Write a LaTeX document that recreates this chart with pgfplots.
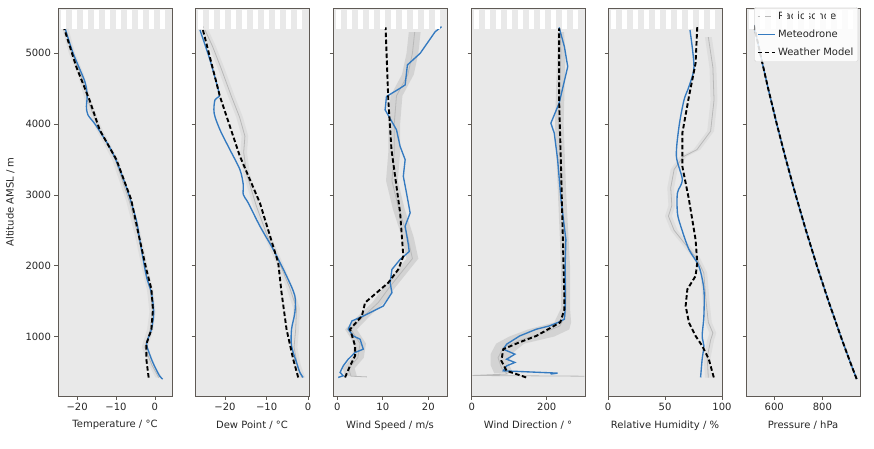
\documentclass[border=0pt]{standalone}
\usepackage{pgfplots}
\pgfplotsset{compat=1.18}
\usepackage{fontspec}
\setmainfont{DejaVu Sans}
\definecolor{bg}{RGB}{233,233,233}
\definecolor{framec}{RGB}{95,90,85}
\definecolor{mdblue}{RGB}{52,122,192}
\definecolor{rsgray}{RGB}{185,185,185}
\definecolor{bandc}{RGB}{190,190,190}
\pgfplotsset{
 panel/.style={
  scale only axis, width=114pt, height=388pt,
  ymin=160, ymax=5640, ytick={1000,2000,3000,4000,5000},
  axis background/.style={fill=bg},
  axis line style={draw=framec, line width=0.9pt},
  every tick/.style={draw=framec, line width=0.7pt},
  tick align=outside, major tick length=3.5pt,
  xtick pos=bottom, ytick pos=left,
  /pgf/number format/assume math mode=true,
  /pgf/number format/1000 sep={},
  tick label style={font=\fontsize{10}{11}\selectfont, text=black!85},
  label style={font=\fontsize{10}{11}\selectfont, text=black!85},
  xlabel shift=3pt, ylabel shift=4pt,
  anchor=south west,
 },
 inner/.style={yticklabels={}},
 md/.style={mdblue, line width=1.35pt},
 wm/.style={black, line width=1.9pt, dash pattern=on 4.5pt off 2.5pt},
 rs/.style={rsgray, line width=0.8pt},
 bd/.style={draw=none, fill=bandc, fill opacity=0.5, forget plot},
 bdl/.style={draw=none, fill=bandc, fill opacity=0.25, forget plot},
}
\begin{document}
\begin{tikzpicture}
\useasboundingbox (0,0) rectangle (874pt,-448pt);
% Temperature
\begin{axis}[panel, at={(58pt,-396pt)}, xmin=-24.9, xmax=4.4, xtick={-20,-10,0}, xticklabels={−20,−10,0},
  xlabel={Temperature / °C}, ylabel={Altitude AMSL / m}]
\addplot[bdl] coordinates {(1.8,420) (0.0,600) (-1.8,850) (-0.4,1100) (0.2,1350) (-0.4,1650) (-1.7,1950) (-3.4,2400) (-5.7,2900) (-9.4,3500) (-13.7,3950) (-16.2,4300) (-18.2,4700) (-20.5,5000) (-22.2,5350)
 (-23.8,5350) (-22.1,5000) (-19.8,4700) (-17.8,4300) (-15.3,3950) (-11.0,3500) (-7.3,2900) (-5.0,2400) (-3.3,1950) (-2.0,1650) (-1.4,1350) (-2.0,1100) (-3.4,850) (-1.6,600) (0.2,420)};
\addplot[rs] coordinates {(1.0,420) (-0.8,600) (-2.6,850) (-1.2,1100) (-0.6,1350) (-1.2,1650) (-2.5,1950) (-4.2,2400) (-6.5,2900) (-10.2,3500) (-14.5,3950) (-17.0,4300) (-19.0,4700) (-21.3,5000) (-23.0,5350)};
\addplot[md, smooth] coordinates {(2.0,400) (1.2,445) (-0.5,630) (-1.8,820) (-2.1,915) (-0.9,1100) (-0.3,1340) (-0.9,1620) (-2.2,1855) (-3.9,2370) (-4.8,2650) (-7.4,3120) (-10.8,3590) (-15.0,3970) (-17.2,4130) (-17.6,4250) (-17.4,4390) (-18.0,4600) (-21.0,5000) (-23.2,5375)};
\addplot[wm] coordinates {(-1.6,420) (-2.2,680) (-2.2,890) (-0.9,1100) (-0.5,1385) (-0.9,1670) (-2.2,1950) (-3.9,2370) (-6.1,2935) (-9.9,3500) (-14.2,3920) (-16.8,4340) (-20.2,4810) (-23.6,5400)};
\end{axis}
% Dew point
\begin{axis}[panel, inner, at={(195pt,-396pt)}, xmin=-27.2, xmax=0.2, xtick={-20,-10,0}, xticklabels={−20,−10,0},
  xlabel={Dew Point / °C}]
\addplot[bdl] coordinates {(-0.7,420) (-1.8,600) (-2.6,850) (-2.2,1100) (-2.0,1400) (-3.7,1700) (-6.2,2050) (-9.2,2450) (-11.7,2850) (-14.0,3300) (-14.7,3600) (-14.4,3830) (-15.7,4100) (-17.7,4400) (-20.2,4800) (-22.2,5100) (-24.0,5330)
 (-25.6,5330) (-23.8,5100) (-21.8,4800) (-19.3,4400) (-17.3,4100) (-16.0,3830) (-16.3,3600) (-15.6,3300) (-13.3,2850) (-10.8,2450) (-7.8,2050) (-5.3,1700) (-3.6,1400) (-3.8,1100) (-4.2,850) (-3.4,600) (-2.3,420)};
\addplot[rs] coordinates {(-1.5,420) (-2.6,600) (-3.4,850) (-3.0,1100) (-2.8,1400) (-4.5,1700) (-7.0,2050) (-10.0,2450) (-12.5,2850) (-14.8,3300) (-15.5,3600) (-15.2,3830) (-16.5,4100) (-18.5,4400) (-21.0,4800) (-23.0,5100) (-24.8,5330)};
\addplot[md, smooth] coordinates {(-1.2,422) (-2.0,493) (-2.8,634) (-4.0,869) (-4.0,1103) (-3.2,1338) (-3.2,1573) (-5.2,1855) (-8.4,2230) (-11.6,2559) (-14.4,2887) (-15.6,3005) (-15.6,3146) (-16.4,3357) (-18.8,3638) (-21.2,3920) (-22.6,4155) (-22.4,4343) (-21.4,4390) (-21.6,4484) (-23.6,4906) (-26.0,5329)};
\addplot[wm] coordinates {(-2.4,422) (-3.6,680) (-5.2,1103) (-6.4,1620) (-7.2,2042) (-11.6,2887) (-16.4,3545) (-21.2,4390) (-25.6,5400)};
\end{axis}
% Wind speed
\begin{axis}[panel, inner, at={(333pt,-396pt)}, xmin=-0.95, xmax=24.1, xtick={0,10,20},
  xlabel={Wind Speed / m/s}]
\addplot[bd] coordinates {(4.3,440) (3.8,550) (5.8,700) (6.3,900) (4.3,1100) (7.3,1300) (10.3,1480) (12.8,1700) (15.3,1900) (17.8,2100) (16.8,2400) (14.8,2800) (13.3,3200) (13.8,3600) (13.8,4000) (14.3,4400) (16.8,4700) (17.8,5000) (18.3,5300)
 (15.7,5300) (15.2,5000) (14.2,4700) (11.7,4400) (11.2,4000) (11.2,3600) (10.7,3200) (12.2,2800) (14.2,2400) (15.2,2100) (12.7,1900) (10.2,1700) (7.7,1480) (4.7,1300) (1.7,1100) (3.7,900) (3.2,700) (1.2,550) (1.7,440)};
\addplot[rs] coordinates {(6.5,430) (3.0,440) (2.5,550) (4.5,700) (5.0,900) (3.0,1100) (6.0,1300) (9.0,1480) (11.5,1700) (14.0,1900) (16.5,2100) (15.5,2400) (13.5,2800) (12.0,3200) (12.5,3600) (12.5,4000) (13.0,4400) (15.5,4700) (16.5,5000) (17.0,5300)};
\addplot[md] coordinates {(0.2,422) (1.3,446) (0.6,493) (1.3,586) (2.4,680) (3.9,775) (5.7,821) (5.0,962) (3.5,1008) (2.4,1103) (3.2,1220) (5.7,1290) (10.1,1431) (12.0,1620) (11.6,1760) (12.0,1948) (13.8,2089) (15.8,2200) (15.6,2300) (14.9,2559) (16.0,2746) (15.2,3028) (14.5,3263) (14.9,3498) (13.8,3685) (13.0,3920) (10.5,4202) (10.8,4390) (13.8,4507) (14.9,4554) (15.4,4836) (18.2,5000) (21.5,5305) (22.9,5376)};
\addplot[wm] coordinates {(1.7,423) (2.8,587) (3.9,728) (3.9,868) (2.8,1103) (5.4,1290) (6.1,1479) (11.2,1760) (13.4,1948) (14.5,2135) (13.8,2746) (11.9,3638) (11.2,4343) (10.6,5366)};
\end{axis}
% Wind direction
\begin{axis}[panel, inner, at={(471pt,-396pt)}, xmin=-2, xmax=302, xtick={0,200},
  xlabel={Wind Direction / °}]
\addplot[bd] coordinates {(110,480) (100,600) (105,750) (140,900) (220,1000) (260,1100) (265,1200) (262,1400) (262,2000) (252,3000) (245,4000) (250,5000) (246,5300)
 (228,5300) (228,5000) (222,4000) (230,3000) (238,2000) (238,1400) (220,1200) (150,1100) (100,1000) (65,900) (50,750) (50,600) (60,480)};
\addplot[rs] coordinates {(300,440) (2,450) (95,470) (80,550) (70,700) (85,850) (130,950) (190,1050) (235,1150) (250,1300) (252,1600) (250,2000) (245,2500) (240,3000) (236,3500) (232,4000) (234,4500) (238,5000) (236,5300)};
\addplot[md] coordinates {(210,470) (229,483) (84,516) (93,586) (115,634) (93,680) (115,751) (84,821) (93,892) (128,1009) (172,1103) (207,1150) (229,1197) (247,1244) (249,1384) (249,1526) (249,1995) (251,2371) (238,2934) (229,3498) (220,3873) (211,4014) (233,4296) (256,4812) (247,5094) (233,5366)};
\addplot[wm] coordinates {(145,423) (93,516) (79,656) (84,821) (128,920) (172,1008) (236,1200) (247,1384) (247,1526) (238,3404) (233,4343) (233,5352)};
\end{axis}
% Relative humidity
\begin{axis}[panel, inner, at={(608pt,-396pt)}, xmin=0, xmax=100, xtick={0,50,100},
  xlabel={Relative Humidity / \%}]
\addplot[bdl] coordinates {(91,420) (90,700) (93,950) (95,1050) (91,1200) (89,1500) (87,1900) (81,2100) (71,2300) (61,2500) (56,2700) (59,2850) (58,3100) (61,3360) (69,3540) (81,3640) (93,3900) (96,4340) (95,4800) (91,5230)
 (85,5230) (89,4800) (90,4340) (87,3900) (75,3640) (63,3540) (55,3360) (52,3100) (53,2850) (50,2700) (55,2500) (65,2300) (75,2100) (81,1900) (83,1500) (85,1200) (89,1050) (87,950) (84,700) (85,420)};
\addplot[rs] coordinates {(88,420) (87,700) (90,950) (92,1050) (88,1200) (86,1500) (84,1900) (78,2100) (68,2300) (58,2500) (53,2700) (56,2850) (55,3100) (58,3360) (66,3540) (78,3640) (90,3900) (93,4340) (92,4800) (88,5230)};
\addplot[md, smooth] coordinates {(81.2,422) (82.6,681) (84.1,869) (82.6,1009) (84.1,1291) (84.1,1667) (79.7,1995) (71.0,2230) (63.8,2559) (60.9,2746) (60.9,3028) (65.2,3216) (60.0,3545) (62.3,3967) (66.7,4343) (71.0,4531) (75.4,4812) (71.9,5329)};
\addplot[wm] coordinates {(92.8,422) (88.4,681) (82.6,869) (76.8,1009) (71.0,1197) (68.1,1432) (69.6,1667) (76.8,1855) (78.3,2042) (76.8,2371) (71.0,2934) (65.2,3404) (65.2,3873) (71.0,4390) (76.8,4859) (78.3,5376)};
\end{axis}
% Pressure
\begin{axis}[panel, inner, at={(746pt,-396pt)}, xmin=482.5, xmax=956.6, xtick={600,800},
  xlabel={Pressure / hPa},
  legend style={at={(1,1)}, anchor=north east, xshift=-2pt, yshift=1pt, fill=white, fill opacity=0.85, text opacity=1, draw={rgb,255:red,215;green,215;blue,215},
    font=\fontsize{10}{11}\selectfont, text=black!85, row sep=5pt, inner sep=2.5pt, rounded corners=1.5pt},
  legend cell align=left]
\addplot[rs, line width=1.2pt] coordinates {(943,400) (921,600) (899,800) (877.5,1000) (826,1500) (777.5,2000) (732,2500) (689,3000) (648.7,3500) (610.8,4000) (575,4500) (541.4,5000) (516,5400)};
\addplot[md] coordinates {(942.6,400) (920.1,600) (898.2,800) (876.8,1000) (825.5,1500) (777.2,2000) (731.7,2500) (688.9,3000) (648.5,3500) (610.6,4000) (574.8,4500) (541.2,5000) (515.7,5400)};
\addplot[wm] coordinates {(942.6,400) (920.1,600) (898.2,800) (876.8,1000) (825.5,1500) (777.2,2000) (731.7,2500) (688.9,3000) (648.5,3500) (610.6,4000) (574.8,4500) (541.2,5000) (515.7,5400)};
\legend{Radiosonde, Meteodrone, Weather Model}
\end{axis}
% white stripe artefact across the top band
\foreach \L in {58,195,333,471,608,746}{
  \draw[white, line width=19pt, dash pattern=on 4.5pt off 6.5pt] ({\L pt+3pt},-19.5pt) -- ({\L pt+113pt},-19.5pt);
}
\end{tikzpicture}
\end{document}
